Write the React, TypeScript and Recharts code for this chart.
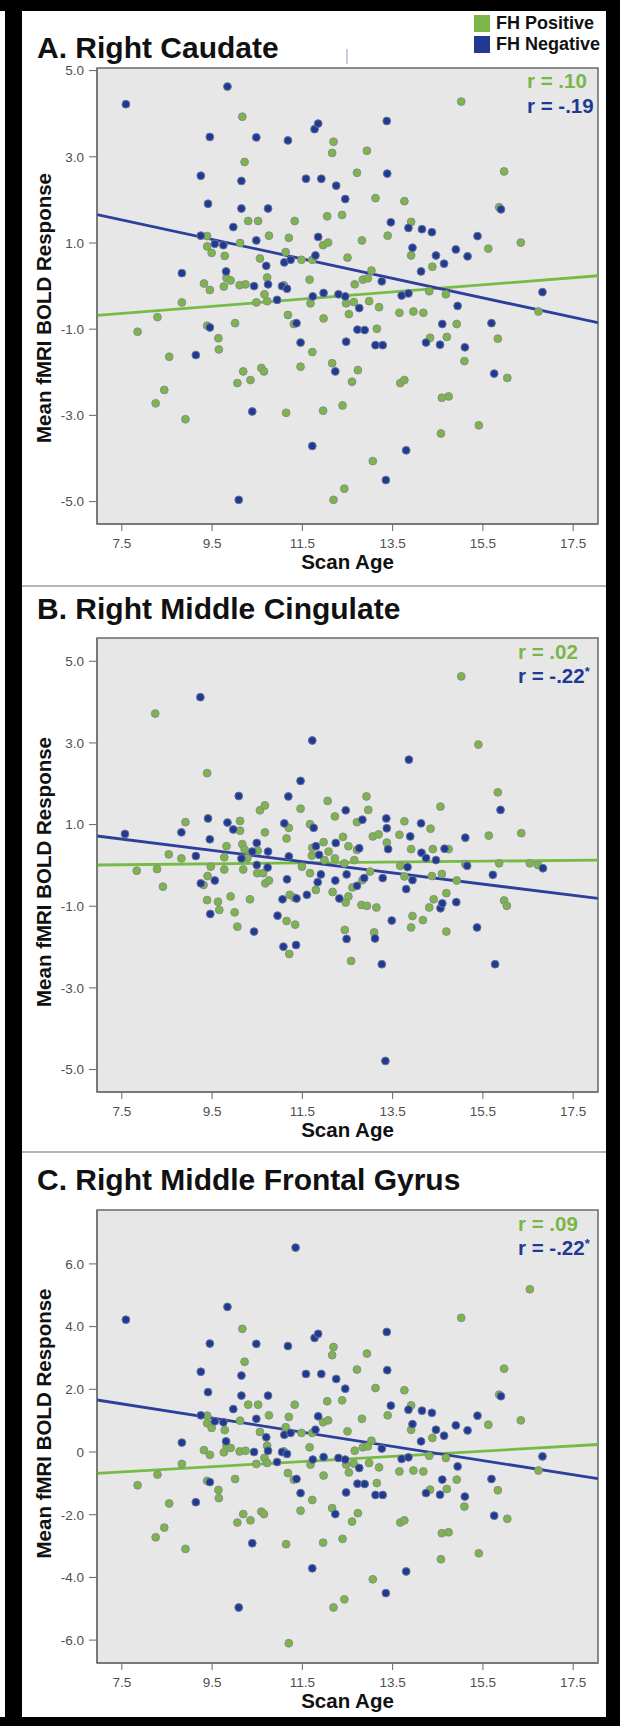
import React from "react";
import {
  ScatterChart,
  Scatter,
  XAxis,
  YAxis,
  CartesianGrid,
  ReferenceArea,
  ReferenceLine,
  Legend,
  Label,
} from "recharts";

const FONT = "Arial, 'Liberation Sans', Helvetica, sans-serif";
const GREEN = "#7ab648";
const BLUE = "#1f3a93";

// scan age ticks shared by all three panels
const ageTicks = [7.5, 9.5, 11.5, 13.5, 15.5, 17.5];
const ageDomain = [6.95, 18.05];

// A / C (caudate + middle frontal gyrus share the same scatter)
const fhPosCaudate: [number, number][] = [
  [7.85, -1.06], [8.29, -0.72], [8.25, -2.72], [8.44, -2.41], [8.55, -1.64], [8.83, -0.38], [8.91, -3.09],
  [9.32, 0.06], [9.39, 1.16], [9.39, 0.92], [9.45, -0.09], [9.49, 0.77], [9.39, -0.92], [9.64, -1.21],
  [9.65, -1.47], [9.78, 0.7], [9.82, 0.19], [9.91, 0.13], [9.76, -0.01], [10.01, -0.86], [10.06, -2.25],
  [10.12, 1.0], [10.11, 0.02], [10.17, 3.93], [10.22, 2.88], [10.19, -1.98], [10.24, 0.04], [10.3, 1.51],
  [10.35, -2.18], [10.48, -0.38], [10.52, 1.51], [10.56, 0.64], [10.59, -1.9], [10.65, -1.98], [10.66, -0.19],
  [10.72, 0.2], [10.72, -0.35], [10.76, 1.17], [11.09, 0.02], [11.13, 0.79], [11.14, -2.94], [11.18, -0.67],
  [11.2, 1.12], [11.2, -6.1], [11.31, -0.88], [11.33, 1.51], [11.46, -1.87], [11.48, 0.61], [11.66, 0.15],
  [11.68, -0.4], [11.72, -1.53], [11.72, 0.61], [11.96, 0.95], [11.97, -0.75], [11.96, -2.89], [12.05, 1.62],
  [12.07, 1.01], [12.16, -1.79], [12.16, 3.09], [12.19, 3.35], [12.19, -4.96], [12.38, 1.65], [12.39, -2.77],
  [12.43, -4.7], [12.47, -0.4], [12.5, 0.66], [12.53, -0.65], [12.6, -2.22], [12.64, -0.37], [12.66, 0.04],
  [12.71, 2.63], [12.73, -1.95], [12.82, 1.06], [12.84, 0.15], [12.93, 3.14], [12.95, 0.18], [12.98, -0.35],
  [13.03, 0.36], [13.06, -4.06], [13.12, 2.04], [13.15, -0.99], [13.2, -0.49], [13.39, 1.17], [13.65, -0.62],
  [13.67, -2.25], [13.76, -2.18], [13.76, 1.97], [13.91, 1.49], [13.91, 0.71], [13.96, -0.59], [14.18, -0.62],
  [14.31, -0.12], [14.33, -1.2], [14.38, 0.45], [14.57, -3.42], [14.59, -2.59], [14.68, -0.19], [14.7, -1.18],
  [14.74, -2.56], [14.92, -0.88], [15.02, 4.28], [15.09, -1.74], [15.41, -3.23], [15.62, 0.87], [15.83, -1.22],
  [15.86, 1.83], [15.97, 2.66], [16.04, -2.13], [16.34, 1.01], [16.54, 5.19], [16.73, -0.59],
];
const fhNegCaudate: [number, number][] = [
  [7.59, 4.22], [8.83, 0.3], [9.14, -1.6], [9.25, 2.56], [9.25, 1.17], [9.41, 1.91], [9.45, 3.46],
  [9.45, -0.96], [9.56, 0.98], [9.75, 0.95], [9.84, 4.63], [9.81, 0.34], [9.97, 1.37], [10.09, -4.96],
  [10.15, 1.8], [10.15, 2.44], [10.39, -2.91], [10.43, 0.0], [10.48, 3.45], [10.48, 1.06], [10.7, 0.47],
  [10.74, 0.04], [10.74, 1.8], [10.94, -0.32], [11.05, 0.0], [11.1, 0.55], [11.18, 3.38], [11.16, -0.06],
  [11.24, 0.61], [11.35, 6.52], [11.37, -0.86], [11.46, -1.31], [11.58, 2.49], [11.72, -3.71], [11.73, -0.24],
  [11.77, 3.64], [11.85, 3.77], [11.79, 0.71], [11.85, 1.14], [11.92, 2.49], [11.97, -0.16], [12.23, -1.98],
  [12.25, 2.33], [12.3, -0.19], [12.45, 2.02], [12.45, -0.24], [12.47, -1.29], [12.72, -1.01], [12.76, -0.51],
  [12.88, -1.02], [13.12, -1.37], [13.28, -1.37], [13.26, 0.11], [13.35, -4.5], [13.37, 3.83], [13.38, 2.61],
  [13.46, 1.48], [13.7, -0.22], [13.8, -3.81], [13.85, 1.35], [13.94, 0.89], [13.85, -0.17], [14.13, 0.34],
  [14.15, 1.32], [14.24, -1.31], [14.37, 1.25], [14.46, 0.71], [14.55, -1.36], [14.6, -0.88], [14.64, 0.52],
  [14.9, 0.85], [14.94, -0.46], [15.1, -1.42], [15.16, 0.69], [15.38, 1.16], [15.69, -0.86], [15.75, -2.03],
  [15.9, 1.78], [16.82, -0.14],
];

// B. right middle cingulate
const fhPosCingulate: [number, number][] = [
  [7.83, -0.13], [8.24, 3.72], [8.28, -0.09], [8.41, -0.52], [8.54, 0.27], [8.82, 0.17], [8.91, 1.06],
  [9.31, -0.48], [9.39, 2.26], [9.4, -0.26], [9.39, -0.85], [9.47, -0.03], [9.63, -0.89], [9.66, -1.09],
  [9.77, -0.1], [9.77, 0.2], [9.82, 0.47], [9.91, -0.76], [10.0, -1.15], [10.06, -1.5], [10.12, 1.09],
  [10.12, 0.85], [10.17, 0.52], [10.19, -0.1], [10.22, 0.39], [10.28, 0.18], [10.34, -0.83], [10.51, 0.36],
  [10.5, -0.19], [10.56, 1.35], [10.67, 1.47], [10.67, 0.81], [10.63, -0.19], [10.68, -0.44], [10.76, -0.37],
  [11.15, -1.36], [11.21, -2.17], [11.2, 0.92], [11.15, 0.66], [11.22, -0.72], [11.34, -1.45], [11.32, -0.79],
  [11.46, 1.39], [11.49, -0.03], [11.67, -0.19], [11.67, 1.01], [11.72, 0.43], [11.71, 0.24], [11.8, -0.6],
  [11.97, 0.57], [11.99, 0.13], [12.06, 1.58], [12.08, 0.34], [12.17, -0.65], [12.22, 1.2], [12.22, 0.17],
  [12.4, 0.7], [12.43, 0.05], [12.44, -1.58], [12.46, -0.91], [12.52, 0.47], [12.52, -0.76], [12.58, -2.34],
  [12.92, 1.69], [12.96, 1.36], [12.71, 1.06], [12.71, 0.38], [12.65, 0.13], [12.61, -0.54], [12.83, -0.36],
  [13.0, -0.15], [12.81, -0.97], [12.93, -0.99], [13.14, -1.03], [13.09, -1.64], [13.06, 0.71], [13.19, 0.76],
  [13.37, 0.56], [13.76, 1.08], [13.65, 0.75], [13.91, 0.4], [13.67, -0.01], [13.76, -0.27], [13.94, -1.24],
  [13.91, -1.52], [14.17, -1.34], [14.34, 0.9], [14.39, 0.4], [14.37, -0.26], [14.31, -1.03], [14.41, -0.83],
  [14.59, -0.21], [14.69, -0.68], [14.56, 1.44], [14.74, 0.4], [14.69, -1.62], [14.92, -0.37], [15.02, 4.63],
  [15.11, 0.03], [15.4, 2.96], [15.63, 0.73], [15.83, 1.79], [15.86, 0.05], [15.97, -0.86], [16.03, -0.99],
  [16.35, 0.79], [16.54, 0.05], [16.72, 0.01],
];
const fhNegCingulate: [number, number][] = [
  [7.57, 0.77], [8.82, 0.81], [9.14, 0.23], [9.24, 4.12], [9.25, -0.44], [9.41, 1.15], [9.45, 0.64],
  [9.46, -1.19], [9.56, -0.37], [9.84, 1.05], [9.97, 0.88], [10.09, 1.7], [10.15, 0.17], [10.39, 0.34],
  [10.43, -1.62], [10.49, 0.55], [10.49, 0.01], [10.73, -0.05], [10.74, 0.34], [10.95, -1.23], [11.08, -1.99],
  [11.06, -0.83], [11.1, 1.03], [11.19, 1.69], [11.2, 0.22], [11.16, -0.34], [11.36, -1.95], [11.37, -0.81],
  [11.46, 2.07], [11.6, -0.72], [11.72, 3.06], [11.75, 0.92], [11.8, 0.47], [11.84, -0.41], [11.87, 0.26],
  [11.91, -0.22], [12.24, 0.55], [12.23, -0.37], [12.32, -0.81], [12.46, 1.35], [12.48, -1.8], [12.48, -0.22],
  [12.83, 1.12], [12.76, 0.42], [12.71, -0.5], [12.87, -0.31], [13.11, -1.79], [13.26, -2.42], [13.34, -4.79],
  [13.36, 1.15], [13.37, 0.91], [13.4, 0.4], [13.28, -0.31], [13.48, -1.35], [13.86, 2.59], [13.89, 0.71],
  [13.83, -0.04], [13.94, -0.36], [13.8, -0.58], [14.13, 1.03], [14.14, 0.31], [14.24, 0.18], [14.46, 0.13],
  [14.56, -1.05], [14.6, -0.93], [14.65, 0.41], [14.91, -0.9], [15.11, 0.68], [15.15, -0.01], [15.37, -1.52],
  [15.72, -0.23], [15.77, -2.42], [15.89, 1.36], [16.83, -0.07],
];

// fit lines, [age, bold] at both ends
const fitPosCaudate: [number, number][] = [[6.95, -0.68], [18.05, 0.24]];
const fitNegCaudate: [number, number][] = [[6.95, 1.66], [18.05, -0.85]];
const fitPosCingulate: [number, number][] = [[6.95, 0.01], [18.05, 0.13]];
const fitNegCingulate: [number, number][] = [[6.95, 0.72], [18.05, -0.81]];

const ticksA = [5, 3, 1, -1, -3, -5];
const ticksB = [5, 3, 1, -1, -3, -5];
const ticksC = [6, 4, 2, 0, -2, -4, -6];

const legendOrder = ["FH Positive", "FH Negative"];

const toPoints = (rows: [number, number][]) => rows.map(([x, y]) => ({ x, y }));

const dot = (fill: string, stroke: string) => (props: any) => (
  <circle cx={props.cx} cy={props.cy} r={3.9} fill={fill} stroke={stroke} strokeWidth={1} />
);

const fmt = (v: number) => (v === 0 ? "0" : v.toFixed(1));

const LegendBox = (props: any) => {
  const payload = [...(props.payload || [])].sort(
    (a: any, b: any) => legendOrder.indexOf(a.value) - legendOrder.indexOf(b.value)
  );
  return (
    <div style={{ fontFamily: FONT, fontWeight: "bold", fontSize: 18, color: "#111" }}>
      {payload.map((p: any) => (
        <div key={p.value} style={{ display: "flex", alignItems: "center", height: 21 }}>
          <span style={{ display: "inline-block", width: 16, height: 17, background: p.color, marginRight: 6 }} />
          <span>{p.value}</span>
        </div>
      ))}
    </div>
  );
};

interface PanelProps {
  top: number;
  height: number;
  marginTop: number;
  yDomain: [number, number];
  yTicks: number[];
  pos: [number, number][];
  neg: [number, number][];
  posFit: [number, number][];
  negFit: [number, number][];
  labelShift: number;
  legend?: boolean;
}

function Panel({ top, height, marginTop, yDomain, yTicks, pos, neg, posFit, negFit, labelShift, legend }: PanelProps) {
  const tickStyle = { fontSize: 13.5, fill: "#505050", fontFamily: FONT };
  return (
    <div style={{ position: "absolute", left: 0, top, width: 620, height }}>
      <ScatterChart width={620} height={height} margin={{ top: marginTop, right: 22, bottom: 0, left: 0 }}>
        <CartesianGrid horizontal={false} vertical={false} fill="#e7e7e7" />
        <XAxis
          type="number"
          dataKey="x"
          domain={ageDomain}
          ticks={ageTicks}
          allowDataOverflow
          tickFormatter={(v: number) => v.toFixed(1)}
          tick={tickStyle}
          tickSize={7}
          tickMargin={7}
          axisLine={{ stroke: "#666" }}
          tickLine={{ stroke: "#666" }}
          height={56}
          label={
            <Label
              content={(p: any) => (
                <text
                  x={p.viewBox.x + p.viewBox.width / 2}
                  y={p.viewBox.y + 45}
                  textAnchor="middle"
                  fontFamily={FONT}
                  fontWeight="bold"
                  fontSize={20.5}
                  fill="#111"
                >
                  Scan Age
                </text>
              )}
            />
          }
        />
        <YAxis
          type="number"
          dataKey="y"
          domain={yDomain}
          ticks={yTicks}
          allowDataOverflow
          tickFormatter={fmt}
          tick={tickStyle}
          tickSize={8}
          tickMargin={5}
          axisLine={{ stroke: "#666" }}
          tickLine={{ stroke: "#666" }}
          width={97}
          label={
            <Label
              content={(p: any) => {
                const cx = p.viewBox.x + 51;
                const cy = p.viewBox.y + p.viewBox.height / 2 + labelShift;
                return (
                  <text
                    x={cx}
                    y={cy}
                    transform={`rotate(-90, ${cx}, ${cy})`}
                    textAnchor="middle"
                    fontFamily={FONT}
                    fontWeight="bold"
                    fontSize={20.5}
                    fill="#111"
                  >
                    Mean fMRI BOLD Response
                  </text>
                );
              }}
            />
          }
        />
        <Scatter
          name="FH Positive"
          data={toPoints(pos)}
          fill={GREEN}
          legendType="square"
          shape={dot(GREEN, "#8c8c8c")}
          isAnimationActive={false}
        />
        <Scatter
          name="FH Negative"
          data={toPoints(neg)}
          fill={BLUE}
          legendType="square"
          shape={dot(BLUE, "#6c7396")}
          isAnimationActive={false}
        />
        <ReferenceLine
          segment={posFit.map(([x, y]) => ({ x, y }))}
          stroke="#76bb45"
          strokeWidth={2.8}
          ifOverflow="hidden"
        />
        <ReferenceLine
          segment={negFit.map(([x, y]) => ({ x, y }))}
          stroke="#2c3f9b"
          strokeWidth={2.8}
          ifOverflow="hidden"
        />
        <ReferenceArea
          x1={ageDomain[0]}
          x2={ageDomain[1]}
          y1={yDomain[0]}
          y2={yDomain[1]}
          fill="none"
          stroke="#6a6a6a"
          strokeWidth={1.5}
          ifOverflow="visible"
        />
        {legend && (
          <Legend
            layout="vertical"
            align="center"
            verticalAlign="middle"
            content={<LegendBox />}
            wrapperStyle={{ position: "absolute", top: 13, left: 474, width: 140, height: 44 }}
          />
        )}
      </ScatterChart>
    </div>
  );
}

export default function App() {
  const titleStyle = { fontFamily: FONT, fontWeight: "bold" as const, fontSize: 30, fill: "#111" };
  const rStyle = { fontFamily: FONT, fontWeight: "bold" as const, fontSize: 20.5 };
  return (
    <div style={{ position: "absolute", left: 0, top: 0, width: 620, height: 1726, background: "#fff", overflow: "hidden" }}>
      <Panel
        top={0}
        height={580}
        marginTop={68}
        yDomain={[-5.52, 5.06]}
        yTicks={ticksA}
        pos={fhPosCaudate}
        neg={fhNegCaudate}
        posFit={fitPosCaudate}
        negFit={fitNegCaudate}
        labelShift={12}
        legend
      />
      <Panel
        top={630}
        height={518}
        marginTop={8}
        yDomain={[-5.55, 5.57]}
        yTicks={ticksB}
        pos={fhPosCingulate}
        neg={fhNegCingulate}
        posFit={fitPosCingulate}
        negFit={fitNegCingulate}
        labelShift={7}
      />
      <Panel
        top={1202}
        height={517}
        marginTop={8}
        yDomain={[-6.73, 7.72]}
        yTicks={ticksC}
        pos={fhPosCaudate}
        neg={fhNegCaudate}
        posFit={fitPosCaudate}
        negFit={fitNegCaudate}
        labelShift={-13}
      />
      <svg width={620} height={1726} style={{ position: "absolute", left: 0, top: 0, pointerEvents: "none" }}>
        <rect x={0} y={0} width={620} height={11} fill="#000" />
        <rect x={5} y={0} width={17} height={1726} fill="#000" />
        <rect x={606} y={0} width={14} height={1726} fill="#000" />
        <rect x={0} y={1717} width={620} height={9} fill="#000" />
        <rect x={22} y={585} width={584} height={2} fill="#b4b4b4" />
        <rect x={22} y={1151} width={584} height={2} fill="#b4b4b4" />
        <line x1={347} y1={49} x2={347} y2={64} stroke="#b3bddb" strokeWidth={1.5} />
        <text x={37} y={58} {...titleStyle}>A. Right Caudate</text>
        <text x={37} y={619} {...titleStyle}>B. Right Middle Cingulate</text>
        <text x={37} y={1190} {...titleStyle}>C. Right Middle Frontal Gyrus</text>
        <text x={527} y={88} fill={GREEN} {...rStyle}>r = .10</text>
        <text x={527} y={113} fill={BLUE} {...rStyle}>r = -.19</text>
        <text x={518} y={659} fill={GREEN} {...rStyle}>r = .02</text>
        <text x={518} y={683} fill={BLUE} {...rStyle}>
          r = -.22<tspan fontSize={13} dy={-7}>*</tspan>
        </text>
        <text x={518} y={1231} fill={GREEN} {...rStyle}>r = .09</text>
        <text x={518} y={1255} fill={BLUE} {...rStyle}>
          r = -.22<tspan fontSize={13} dy={-7}>*</tspan>
        </text>
      </svg>
    </div>
  );
}
